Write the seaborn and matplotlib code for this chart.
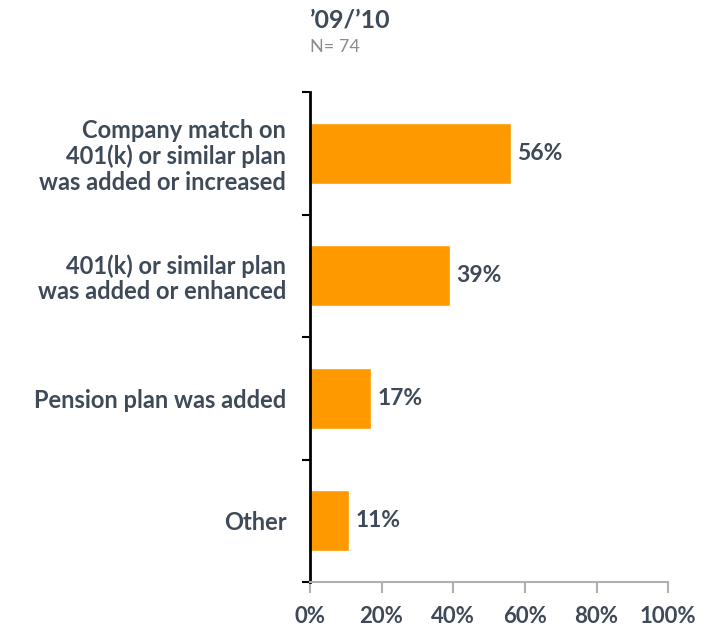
import matplotlib
matplotlib.use("Agg")
import matplotlib.pyplot as plt
import seaborn as sns
import pandas as pd
import numpy as np

categories = [
    "Company match on\n401(k) or similar plan\nwas added or increased",
    "401(k) or similar plan\nwas added or enhanced",
    "Pension plan was added",
    "Other",
]
values = [56, 39, 17, 11]
x_ticks = [0, 20, 40, 60, 80, 100]

sns.set_style("white")
plt.rcParams['font.family'] = ['Lato', 'DejaVu Sans']

text_col = '#3e4a57'
bar_col = '#ff9900'

df = pd.DataFrame({'cat': categories, 'val': values})

fig = plt.figure(figsize=(7.14, 6.3), dpi=100)
ax = fig.add_axes([0.434, 0.076, 0.502, 0.778])

sns.barplot(data=df, x='val', y='cat', color=bar_col, width=0.5,
            saturation=1, orient='h', ax=ax)

ax.set_xlim(0, 100)
ax.set_ylim(3.5, -0.5)
ax.set_xlabel('')
ax.set_ylabel('')

for i, v in enumerate(values):
    ax.text(v + 1.8, i, f"{v}%", va='center', ha='left', fontsize=16.5,
            fontweight='bold', color=text_col)

# y axis: ticks between categories
ax.set_yticks(range(len(categories)))
ax.set_yticklabels(categories, fontsize=17, fontweight='bold', color=text_col,
                   linespacing=1.12)
ax.tick_params(axis='y', which='major', length=0, pad=17)
ax.set_yticks(np.arange(-0.5, len(categories), 1), minor=True)
ax.tick_params(axis='y', which='minor', length=6, width=1.5, color='black',
               direction='out', left=True)

ax.set_xticks(x_ticks)
ax.set_xticklabels([f"{t}%" for t in x_ticks], fontsize=16, fontweight='bold',
                   color=text_col)
ax.tick_params(axis='x', length=8, width=1.5, color='#b0b0b0', direction='out',
               bottom=True, pad=9)

for s in ['top', 'right']:
    ax.spines[s].set_visible(False)
ax.spines['left'].set_color('black')
ax.spines['left'].set_linewidth(2)
ax.spines['bottom'].set_color('#b0b0b0')
ax.spines['bottom'].set_linewidth(1.5)

fig.text(0.434, 0.968, "\u201909/\u201910", fontsize=18, fontweight='bold',
         color=text_col, ha='left', va='center')
fig.text(0.434, 0.925, "N= 74", fontsize=13, color='#8c8c8c',
         ha='left', va='center')

fig.savefig("out.png", dpi=100)
